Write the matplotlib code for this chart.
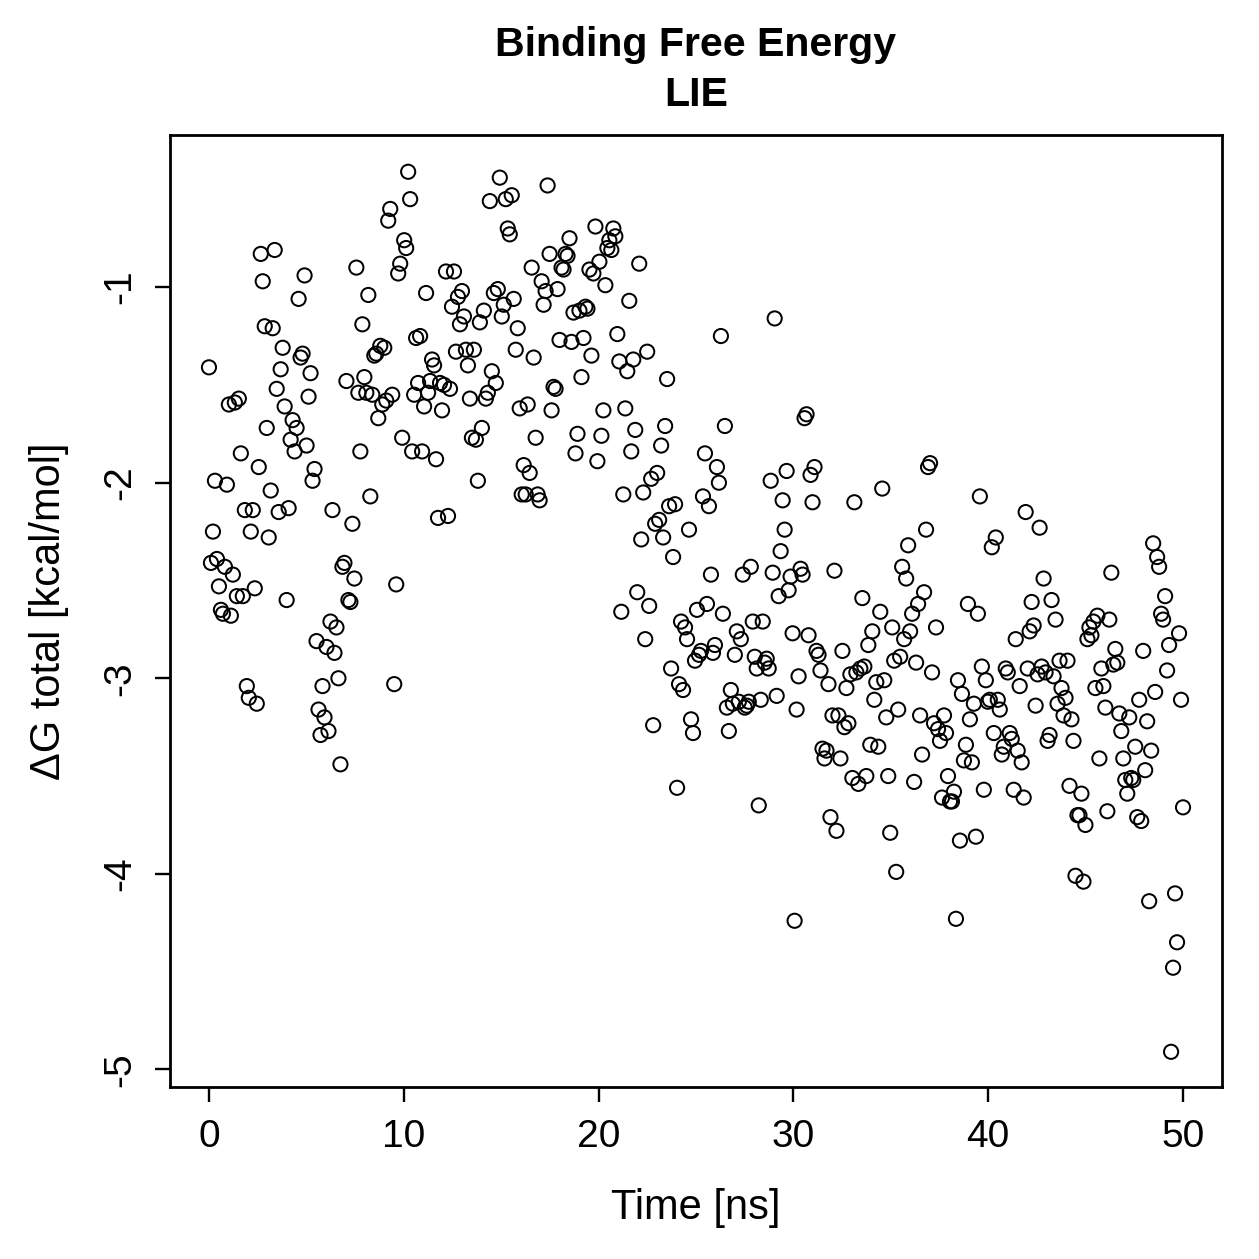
import numpy as np
import matplotlib.pyplot as plt

plt.rcParams['font.family'] = ['Liberation Sans', 'DejaVu Sans']

# valores de Delta G total (kcal/mol), muestreados a intervalos regulares en 0-50 ns
dG = [
    -1.41, -2.41, -2.25, -1.99, -2.39, -2.53, -2.65, -2.67, -2.43, -2.01,
    -1.60, -2.68, -2.47, -1.59, -2.58, -1.57, -1.85, -2.58, -2.14, -3.04,
    -3.10, -2.25, -2.14, -2.54, -3.13, -1.92, -0.83, -0.97, -1.20, -1.72,
    -2.28, -2.04, -1.21, -0.81, -1.52, -2.15, -1.42, -1.31, -1.61, -2.60,
    -2.13, -1.78, -1.68, -1.84, -1.72, -1.06, -1.36, -1.34, -0.94, -1.81,
    -1.56, -1.44, -1.99, -1.93, -2.81, -3.16, -3.29, -3.04, -3.20, -2.84,
    -3.27, -2.71, -2.14, -2.87, -2.74, -3.00, -3.44, -2.43, -2.41, -1.48,
    -2.60, -2.61, -2.21, -2.49, -0.90, -1.54, -1.84, -1.19, -1.46, -1.54,
    -1.04, -2.07, -1.55, -1.35, -1.34, -1.67, -1.30, -1.60, -1.31, -1.58,
    -0.66, -0.60, -1.55, -3.03, -2.52, -0.93, -0.88, -1.77, -0.76, -0.80,
    -0.41, -0.55, -1.84, -1.55, -1.26, -1.49, -1.25, -1.84, -1.61, -1.03,
    -1.54, -1.48, -1.37, -1.40, -1.88, -2.18, -1.49, -1.63, -1.50, -0.92,
    -2.17, -1.52, -1.10, -0.92, -1.33, -1.05, -1.19, -1.02, -1.15, -1.32,
    -1.40, -1.57, -1.77, -1.32, -1.78, -1.99, -1.18, -1.72, -1.12, -1.57,
    -1.54, -0.56, -1.43, -1.03, -1.49, -1.01, -0.44, -1.15, -1.09, -0.55,
    -0.70, -0.73, -0.53, -1.06, -1.32, -1.21, -1.62, -2.06, -1.91, -2.06,
    -1.60, -1.95, -0.90, -1.36, -1.77, -2.06, -2.09, -0.97, -1.09, -1.02,
    -0.48, -0.83, -1.63, -1.51, -1.52, -1.01, -1.27, -0.90, -0.91, -0.83,
    -0.84, -0.75, -1.28, -1.13, -1.85, -1.75, -1.12, -1.46, -1.26, -1.10,
    -1.11, -0.91, -1.35, -0.93, -0.69, -1.89, -0.87, -1.76, -1.63, -0.99,
    -0.80, -0.76, -0.81, -0.70, -0.74, -1.24, -1.38, -2.66, -2.06, -1.62,
    -1.43, -1.07, -1.84, -1.37, -1.73, -2.56, -0.88, -2.29, -2.05, -2.80,
    -1.33, -2.63, -1.98, -3.24, -2.21, -1.95, -2.19, -1.81, -2.28, -1.71,
    -1.47, -2.12, -2.95, -2.38, -2.11, -3.56, -3.03, -2.71, -3.06, -2.74,
    -2.80, -2.24, -3.21, -3.28, -2.91, -2.65, -2.88, -2.86, -2.07, -1.85,
    -2.62, -2.12, -2.47, -2.87, -2.83, -1.92, -2.00, -1.25, -2.67, -1.71,
    -3.15, -3.27, -3.06, -3.13, -2.88, -2.76, -3.12, -2.80, -2.47, -3.15,
    -3.14, -3.12, -2.43, -2.71, -2.89, -2.95, -3.65, -3.11, -2.71, -2.92,
    -2.90, -2.95, -1.99, -2.46, -1.16, -3.09, -2.58, -2.35, -2.09, -2.24,
    -1.94, -2.55, -2.48, -2.77, -4.24, -3.16, -2.99, -2.44, -2.47, -1.67,
    -1.65, -2.78, -1.96, -2.10, -1.92, -2.86, -2.88, -2.96, -3.36, -3.41,
    -3.37, -3.03, -3.71, -3.19, -2.45, -3.78, -3.19, -3.41, -2.86, -3.25,
    -3.05, -3.23, -2.98, -3.51, -2.10, -2.97, -3.54, -2.95, -2.59, -2.94,
    -3.50, -2.83, -3.34, -2.76, -3.11, -3.02, -3.35, -2.66, -2.03, -3.01,
    -3.20, -3.50, -3.79, -2.74, -2.91, -3.99, -3.16, -2.89, -2.43, -2.80,
    -2.49, -2.32, -2.76, -2.67, -3.53, -2.92, -2.62, -3.19, -3.39, -2.56,
    -2.24, -1.92, -1.90, -2.97, -3.23, -2.74, -3.26, -3.32, -3.61, -3.19,
    -3.28, -3.50, -3.63, -3.63, -3.58, -4.23, -3.01, -3.83, -3.08, -3.42,
    -3.34, -2.62, -3.21, -3.43, -3.13, -3.81, -2.67, -2.07, -2.94, -3.57,
    -3.01, -3.12, -3.11, -2.33, -3.28, -2.28, -3.11, -3.16, -3.39, -3.35,
    -2.95, -2.97, -3.28, -3.31, -3.57, -2.80, -3.37, -3.04, -3.43, -3.61,
    -2.15, -2.95, -2.76, -2.61, -2.73, -3.14, -2.98, -2.23, -2.94, -2.49,
    -2.97, -3.32, -3.29, -2.60, -2.99, -2.70, -3.13, -2.91, -3.05, -3.19,
    -3.10, -2.91, -3.55, -3.21, -3.32, -4.01, -3.70, -3.70, -3.59, -4.04,
    -3.75, -2.80, -2.74, -2.78, -2.71, -3.05, -2.68, -3.41, -2.95, -3.04,
    -3.15, -3.68, -2.70, -2.46, -2.93, -2.85, -2.92, -3.18, -3.27, -3.41,
    -3.52, -3.59, -3.20, -3.51, -3.52, -3.35, -3.71, -3.11, -3.73, -2.86,
    -3.47, -3.22, -4.14, -3.37, -2.31, -3.07, -2.38, -2.43, -2.67, -2.70,
    -2.58, -2.96, -2.83, -4.91, -4.48, -4.10, -4.35, -2.77, -3.11, -3.66,
]
t_ini = 0
t_fin = 50
tiempo = np.linspace(t_ini, t_fin, len(dG))

fig = plt.figure(figsize=(1259 / 200, 1259 / 200), dpi=200)
ax = fig.add_axes([170 / 1259, 1 - 1087 / 1259, (1222 - 170) / 1259, (1087 - 135) / 1259])

ax.scatter(tiempo, dG, s=26, facecolors='none', edgecolors='black', linewidths=0.72)

ax.set_xlim(-2, 52)
ax.set_ylim(-5.09, -0.222)
ax.set_xticks([0, 10, 20, 30, 40, 50])
ax.set_yticks([-5, -4, -3, -2, -1])
ax.set_yticklabels(['-5', '-4', '-3', '-2', '-1'], rotation=90, va='center')
ax.tick_params(direction='out', length=5.5, width=0.85, labelsize=14, pad=6)
for s in ax.spines.values():
    s.set_linewidth(1.0)

ax.set_xlabel('Time [ns]', fontsize=15, labelpad=12)
ax.set_ylabel('ΔG total [kcal/mol]', fontsize=15, labelpad=12)

fig.text(696 / 1259, 1 - 45 / 1259, 'Binding Free Energy', ha='center', va='center',
         fontsize=14.8, fontweight='bold')
fig.text(696 / 1259, 1 - 95 / 1259, 'LIE', ha='center', va='center',
         fontsize=14.8, fontweight='bold')

fig.savefig('out.png', dpi=200)
